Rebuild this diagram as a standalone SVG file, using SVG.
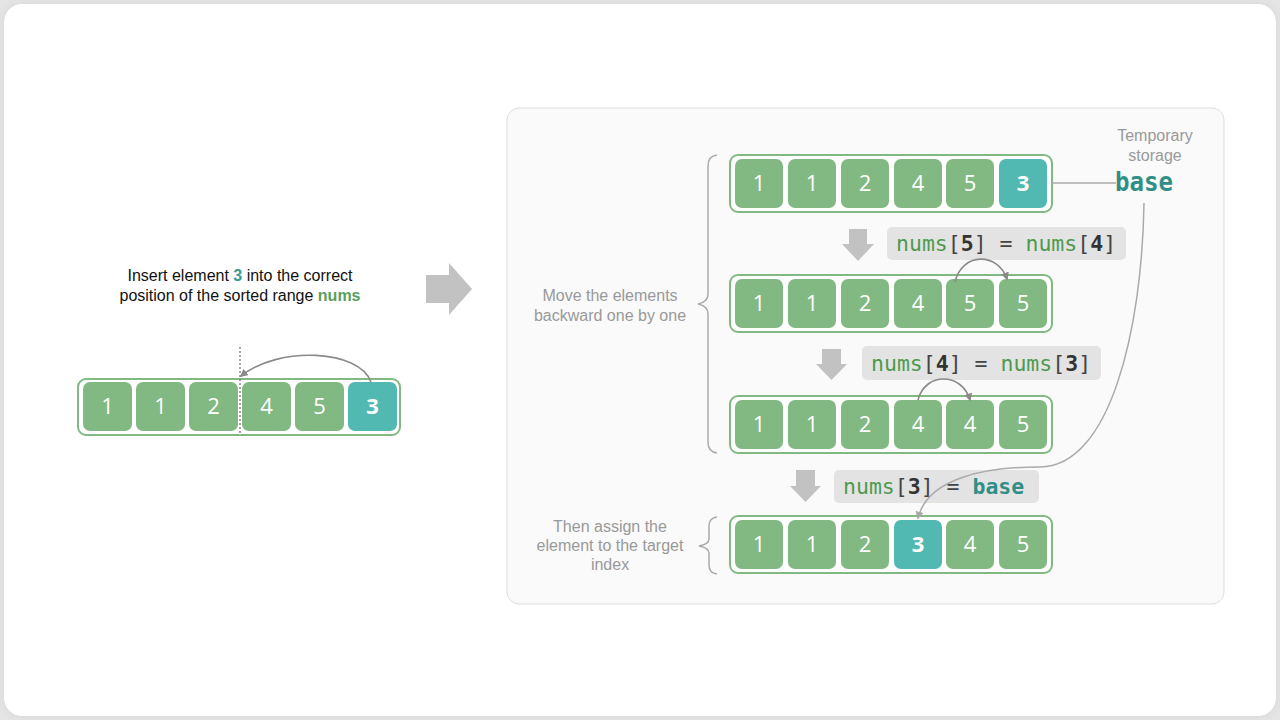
<svg xmlns="http://www.w3.org/2000/svg" width="1280" height="720" viewBox="0 0 1280 720">
  <defs>
    <filter id="soft" x="-5%" y="-5%" width="110%" height="110%">
      <feGaussianBlur stdDeviation="2.5"/>
    </filter>
    <marker id="tip" viewBox="0 0 10 10" refX="8" refY="5" markerWidth="8" markerHeight="8" markerUnits="userSpaceOnUse" orient="auto">
      <path d="M0,0 L10,5 L0,10 Z" fill="#8a8a8a"/>
    </marker>
    <marker id="tipLight" viewBox="0 0 10 10" refX="8" refY="5" markerWidth="8" markerHeight="8" markerUnits="userSpaceOnUse" orient="auto">
      <path d="M0,0 L10,5 L0,10 Z" fill="#a8a8a8"/>
    </marker>
  </defs>
  <style>
    .frame { fill: #ffffff; stroke: #82b982; stroke-width: 2; }
    .cell { fill: #82b982; }
    .cell.hl { fill: #52b9b2; }
    .num { font-family: "Open Sans", "DejaVu Sans", sans-serif; font-size: 22px; font-weight: 500; fill: #ffffff; text-anchor: middle; }
    .num.b { font-weight: bold; }
    .note { font-family: "Liberation Sans", Arial, sans-serif; font-size: 16px; fill: #999999; text-anchor: middle; }
    .title { font-family: "Liberation Sans", Arial, sans-serif; font-size: 16px; fill: #111111; text-anchor: middle; }
    .codebox { fill: #e3e3e3; }
    .code { font-family: "DejaVu Sans Mono", "Liberation Mono", monospace; font-size: 21.5px; fill: #444444; }
    .kw { fill: #4e9a4e; }
    .idx { fill: #333333; font-weight: bold; }
    .base { fill: #2f8f86; font-weight: bold; }
    .store { font-size: 26px; }
    .down { fill: #c2c2c2; }
    .link { fill: none; stroke: #8a8a8a; stroke-width: 1.6; }
    .link2 { fill: none; stroke: #aaaaaa; stroke-width: 1.5; }
    .brace { fill: none; stroke: #aaaaaa; stroke-width: 1.5; }
  </style>

  <!-- page -->
  <rect width="1280" height="720" fill="#e4e4e4"/>
  <rect x="2" y="2" width="1276" height="716" rx="20" fill="#dcdcdc" filter="url(#soft)"/>
  <rect x="4" y="4" width="1272" height="712" rx="18" fill="#ffffff"/>

  <!-- left: initial array -->
  <g id="intro">
    <text class="title" x="240" y="281">Insert element <tspan fill="#3a9a90" font-weight="bold">3</tspan> into the correct</text>
    <text class="title" x="240" y="301">position of the sorted range <tspan fill="#5aa05a" font-weight="bold">nums</tspan></text>
  </g>
  <g id="array-initial">
    <rect class="frame" x="78" y="379" width="322" height="56" rx="8"/>
    <rect class="cell" x="83" y="382" width="49" height="49" rx="7"/>
    <rect class="cell" x="136" y="382" width="49" height="49" rx="7"/>
    <rect class="cell" x="189" y="382" width="49" height="49" rx="7"/>
    <rect class="cell" x="242" y="382" width="49" height="49" rx="7"/>
    <rect class="cell" x="295" y="382" width="49" height="49" rx="7"/>
    <rect class="cell hl" x="348" y="382" width="49" height="49" rx="7"/>
    <text class="num" x="107.5" y="414">1</text>
    <text class="num" x="160.5" y="414">1</text>
    <text class="num" x="213.5" y="414">2</text>
    <text class="num" x="266.5" y="414">4</text>
    <text class="num" x="319.5" y="414">5</text>
    <text class="num b" x="372.5" y="414">3</text>
    <line x1="240" y1="347" x2="240" y2="435" stroke="#777777" stroke-width="1.3" stroke-dasharray="2,2"/>
  </g>

  <!-- big arrow between the two halves -->
  <g id="step-arrow">
    <polygon points="426,275 449,275 449,263 472,289 449,315 449,303 426,303" fill="#c2c2c2"/>
  </g>

  <!-- right panel -->
  <g id="panel">
    <rect x="507" y="108" width="717" height="496" rx="12" fill="#fafafa" stroke="#dddddd" stroke-width="1"/>
  </g>

  <g id="labels">
    <text class="note" x="610" y="301">Move the elements</text>
    <text class="note" x="610" y="321">backward one by one</text>
    <text class="note" x="610" y="532">Then assign the</text>
    <text class="note" x="610" y="551">element to the target</text>
    <text class="note" x="610" y="570">index</text>
    <text class="note" x="1155" y="141">Temporary</text>
    <text class="note" x="1155" y="161">storage</text>
    <text class="code base store" x="1115" y="191" textLength="58" lengthAdjust="spacingAndGlyphs">base</text>
  </g>

  <g id="braces">
    <path class="brace" d="M717,155 Q708,156 708,166 L708,294 Q708,302 698,304 Q708,306 708,314 L708,442 Q708,452 717,453"/>
    <path class="brace" d="M717,517 Q709,518 709,526 L709,539 Q709,544 699,546 Q709,548 709,553 L709,565 Q709,573 717,574"/>
  </g>

  <!-- row 1 -->
  <g id="row1">
    <rect class="frame" x="730" y="155" width="322" height="57" rx="8"/>
    <rect class="cell" x="735" y="159" width="48" height="49" rx="7"/>
    <rect class="cell" x="788" y="159" width="48" height="49" rx="7"/>
    <rect class="cell" x="841" y="159" width="48" height="49" rx="7"/>
    <rect class="cell" x="894" y="159" width="48" height="49" rx="7"/>
    <rect class="cell" x="946" y="159" width="48" height="49" rx="7"/>
    <rect class="cell hl" x="999" y="159" width="48" height="49" rx="7"/>
    <text class="num" x="759" y="191">1</text>
    <text class="num" x="812" y="191">1</text>
    <text class="num" x="865" y="191">2</text>
    <text class="num" x="918" y="191">4</text>
    <text class="num" x="970" y="191">5</text>
    <text class="num b" x="1023" y="191">3</text>
  </g>

  <!-- row 2 -->
  <g id="row2">
    <rect class="frame" x="730" y="275" width="322" height="57" rx="8"/>
    <rect class="cell" x="735" y="279" width="48" height="49" rx="7"/>
    <rect class="cell" x="788" y="279" width="48" height="49" rx="7"/>
    <rect class="cell" x="841" y="279" width="48" height="49" rx="7"/>
    <rect class="cell" x="894" y="279" width="48" height="49" rx="7"/>
    <rect class="cell" x="946" y="279" width="48" height="49" rx="7"/>
    <rect class="cell" x="999" y="279" width="48" height="49" rx="7"/>
    <text class="num" x="759" y="311">1</text>
    <text class="num" x="812" y="311">1</text>
    <text class="num" x="865" y="311">2</text>
    <text class="num" x="918" y="311">4</text>
    <text class="num" x="970" y="311">5</text>
    <text class="num" x="1023" y="311">5</text>
  </g>

  <!-- row 3 -->
  <g id="row3">
    <rect class="frame" x="730" y="396" width="322" height="57" rx="8"/>
    <rect class="cell" x="735" y="400" width="48" height="49" rx="7"/>
    <rect class="cell" x="788" y="400" width="48" height="49" rx="7"/>
    <rect class="cell" x="841" y="400" width="48" height="49" rx="7"/>
    <rect class="cell" x="894" y="400" width="48" height="49" rx="7"/>
    <rect class="cell" x="946" y="400" width="48" height="49" rx="7"/>
    <rect class="cell" x="999" y="400" width="48" height="49" rx="7"/>
    <text class="num" x="759" y="432">1</text>
    <text class="num" x="812" y="432">1</text>
    <text class="num" x="865" y="432">2</text>
    <text class="num" x="918" y="432">4</text>
    <text class="num" x="970" y="432">4</text>
    <text class="num" x="1023" y="432">5</text>
  </g>

  <!-- row 4 -->
  <g id="row4">
    <rect class="frame" x="730" y="516" width="322" height="57" rx="8"/>
    <rect class="cell" x="735" y="520" width="48" height="49" rx="7"/>
    <rect class="cell" x="788" y="520" width="48" height="49" rx="7"/>
    <rect class="cell" x="841" y="520" width="48" height="49" rx="7"/>
    <rect class="cell hl" x="894" y="520" width="48" height="49" rx="7"/>
    <rect class="cell" x="946" y="520" width="48" height="49" rx="7"/>
    <rect class="cell" x="999" y="520" width="48" height="49" rx="7"/>
    <text class="num" x="759" y="552">1</text>
    <text class="num" x="812" y="552">1</text>
    <text class="num" x="865" y="552">2</text>
    <text class="num b" x="918" y="552">3</text>
    <text class="num" x="970" y="552">4</text>
    <text class="num" x="1023" y="552">5</text>
  </g>

  <!-- step operations -->
  <g id="op1">
    <polygon class="down" points="849,229 867,229 867,244 874,244 858,261 842,244 849,244"/>
    <rect class="codebox" x="887" y="227" width="239" height="33" rx="5"/>
    <text class="code" x="896" y="251"><tspan class="kw">nums</tspan>[<tspan class="idx">5</tspan>] = <tspan class="kw">nums</tspan>[<tspan class="idx">4</tspan>]</text>
  </g>
  <g id="op2">
    <polygon class="down" points="822,349 841,349 841,364 847,364 831.5,380 816,364 822,364"/>
    <rect class="codebox" x="862" y="346" width="239" height="34" rx="5"/>
    <text class="code" x="871" y="371"><tspan class="kw">nums</tspan>[<tspan class="idx">4</tspan>] = <tspan class="kw">nums</tspan>[<tspan class="idx">3</tspan>]</text>
  </g>
  <g id="op3">
    <polygon class="down" points="796,470 815,470 815,486 821,486 805.5,502 790,486 796,486"/>
    <rect class="codebox" x="834" y="470" width="205" height="33" rx="5"/>
    <text class="code" x="843" y="494"><tspan class="kw">nums</tspan>[<tspan class="idx">3</tspan>] = <tspan class="base">base</tspan></text>
  </g>

  <!-- connectors -->
  <g id="connectors">
    <path class="link" d="M371,382 C360,350 280,345 241,376" marker-end="url(#tip)"/>
    <path class="link" d="M955,282 C962,252 998,252 1007,279" marker-end="url(#tip)"/>
    <path class="link" d="M918,400 C925,372 962,372 970,400" marker-end="url(#tip)"/>
    <line x1="1052" y1="183" x2="1116" y2="183" stroke="#aaaaaa" stroke-width="1.5"/>
    <path class="link2" d="M1144,203 C1142,330 1110,467 1040,467 C985,467 928,478 918,518" marker-end="url(#tipLight)"/>
  </g>
</svg>
